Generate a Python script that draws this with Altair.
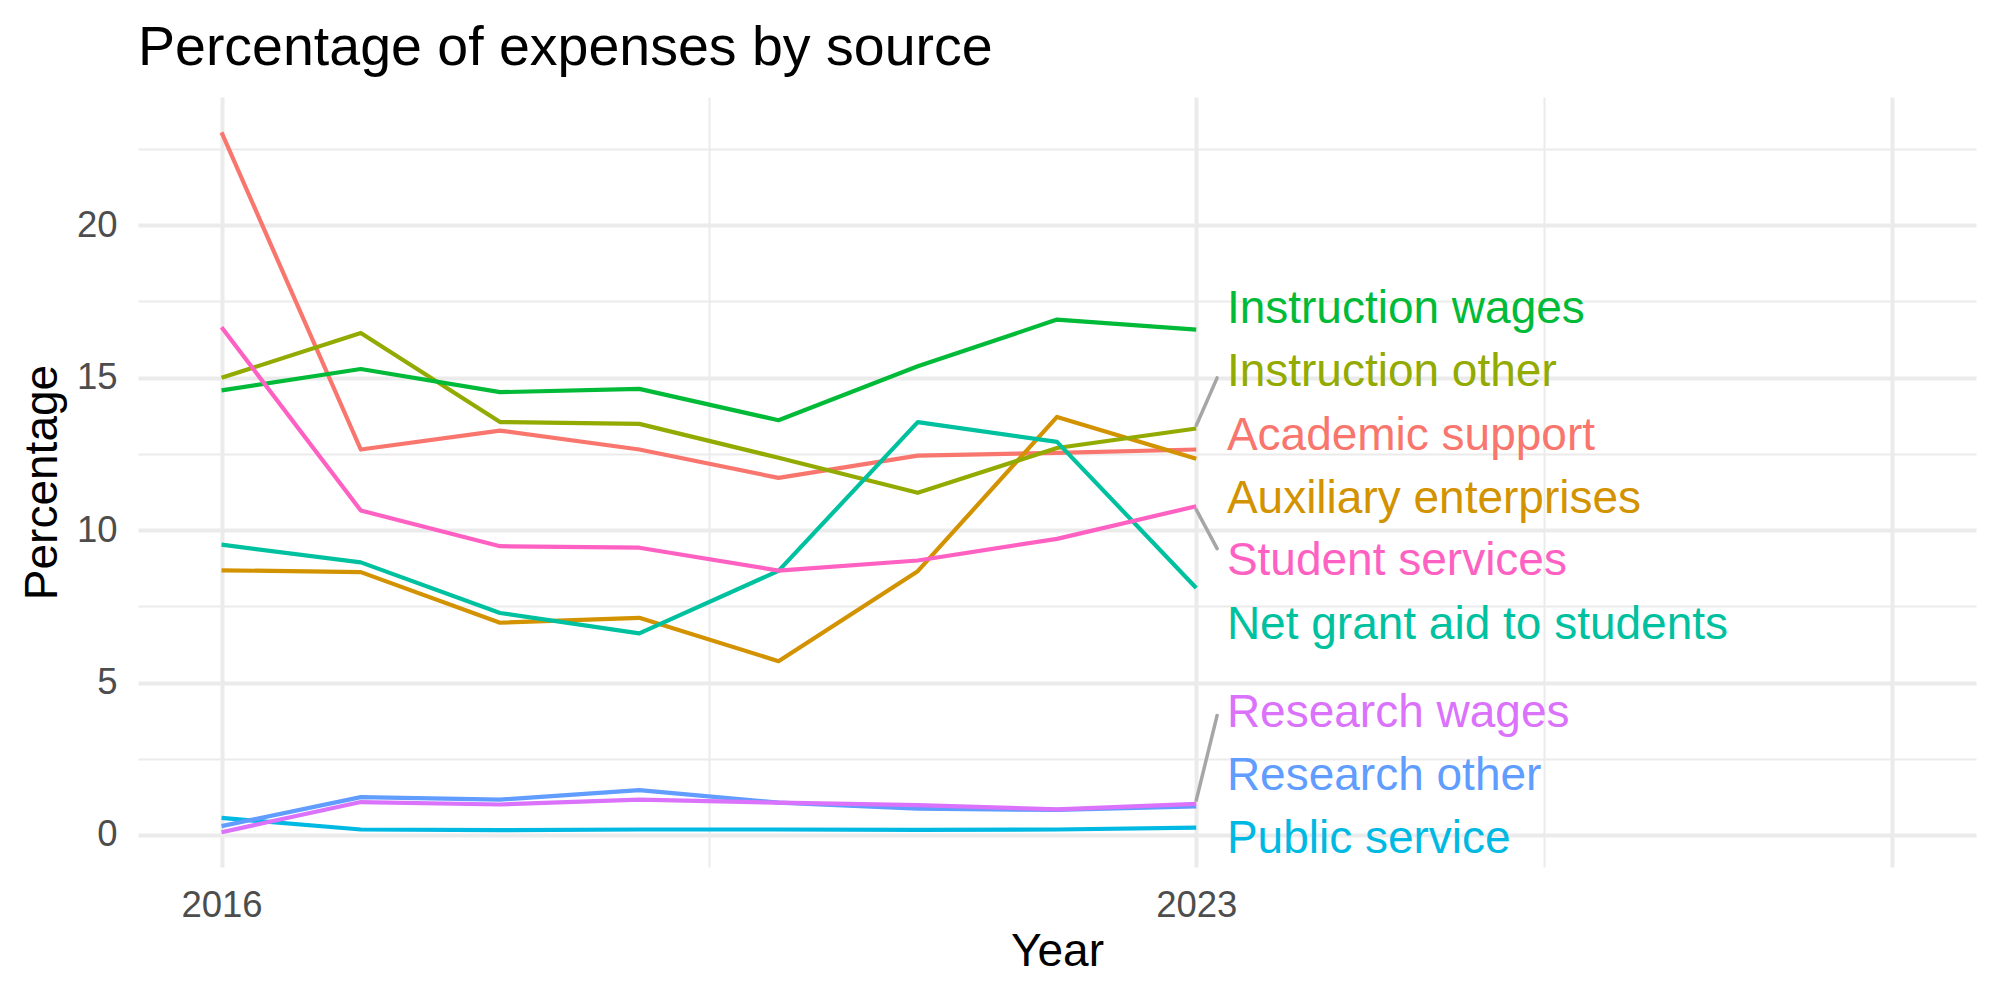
import altair as alt
import pandas as pd

# ---- data ----
years = [2016, 2017, 2018, 2019, 2020, 2021, 2022, 2023]
series = [
    "Academic support",
    "Auxiliary enterprises",
    "Instruction other",
    "Instruction wages",
    "Net grant aid to students",
    "Public service",
    "Research other",
    "Research wages",
    "Student services",
]
academic_support = [23.04, 12.64, 13.26, 12.64, 11.71, 12.44, 12.53, 12.64]
auxiliary_enterprises = [8.68, 8.62, 6.96, 7.12, 5.70, 8.65, 13.71, 12.34]
instruction_other = [14.99, 16.46, 13.54, 13.48, 12.37, 11.22, 12.69, 13.33]
instruction_wages = [14.58, 15.28, 14.52, 14.63, 13.60, 15.37, 16.90, 16.57]
net_grant_aid = [9.52, 8.94, 7.28, 6.61, 8.66, 13.54, 12.89, 8.10]
public_service = [0.56, 0.18, 0.16, 0.18, 0.18, 0.17, 0.18, 0.24]
research_other = [0.29, 1.24, 1.16, 1.47, 1.06, 0.86, 0.82, 0.94]
research_wages = [0.09, 1.08, 1.00, 1.16, 1.06, 0.98, 0.84, 1.02]
student_services = [16.65, 10.64, 9.47, 9.42, 8.67, 9.00, 9.71, 10.78]

colors = ["#F8766D", "#D39200", "#93AA00", "#00BA38", "#00C19F",
          "#00B9E3", "#619CFF", "#DB72FB", "#FF61C3"]

# repelled label positions (data units)
label_x = 2023.22
label_y = [13.08, 11.01, 15.17, 17.25, 6.90, -0.13, 1.94, 4.00, 8.97]

# connector segments (data units)
seg_series = ["Instruction other", "Student services", "Research wages"]
seg_x = [2023.0, 2023.0, 2023.0]
seg_y = [13.43, 10.67, 1.14]
seg_x2 = [2023.15, 2023.15, 2023.15]
seg_y2 = [14.99, 9.39, 3.92]

x_breaks = [2016, 2019.5, 2023, 2025.5, 2028]
y_breaks = [0, 2.5, 5, 7.5, 10, 12.5, 15, 17.5, 20, 22.5]

# ---- tables ----
all_vals = [academic_support, auxiliary_enterprises, instruction_other,
            instruction_wages, net_grant_aid, public_service,
            research_other, research_wages, student_services]
rows = []
for s, vals in zip(series, all_vals):
    for yr, v in zip(years, vals):
        rows.append({"series": s, "year": yr, "value": v})
df = pd.DataFrame(rows)
df_lab = pd.DataFrame({"series": series, "year": [label_x] * len(series), "value": label_y})
df_seg = pd.DataFrame({"series": seg_series, "year": seg_x, "value": seg_y,
                       "year2": seg_x2, "value2": seg_y2})

FONT = "Liberation Sans"

x_axis = alt.Axis(
    values=x_breaks,
    labelExpr="(datum.value == 2016 || datum.value == 2023) ? format(datum.value, 'd') : ''",
    grid=True, gridColor="#EBEBEB",
    gridWidth={"condition": {"test": "datum.value % 1 == 0", "value": 4}, "value": 2},
    domain=False, ticks=False, tickSize=0,
    labelFontSize=36.5, labelColor="#4D4D4D", labelPadding=20, labelFont=FONT,
    title="Year", titleFontSize=46, titleColor="black", titleFontWeight="normal",
    titleFont=FONT, titlePadding=6,
)
y_axis = alt.Axis(
    values=y_breaks,
    labelExpr="datum.value % 5 == 0 ? format(datum.value, 'd') : ''",
    grid=True, gridColor="#EBEBEB",
    gridWidth={"condition": {"test": "datum.value % 5 == 0", "value": 4}, "value": 2},
    domain=False, ticks=False, tickSize=0,
    labelFontSize=36.5, labelColor="#4D4D4D", labelPadding=21, labelFont=FONT,
    title="Percentage", titleFontSize=46, titleColor="black", titleFontWeight="normal",
    titleFont=FONT, titlePadding=10,
)
x_scale = alt.Scale(domain=[2015.4, 2028.6], nice=False, zero=False)
y_scale = alt.Scale(domain=[-1.05, 24.2], nice=False, zero=False)
color_enc = alt.Color("series:N", scale=alt.Scale(domain=series, range=colors), legend=None)

lines = alt.Chart(df).mark_line(strokeWidth=4.2, strokeJoin="round").encode(
    x=alt.X("year:Q", scale=x_scale, axis=x_axis),
    y=alt.Y("value:Q", scale=y_scale, axis=y_axis),
    color=color_enc,
    detail="series:N",
)

segs = alt.Chart(df_seg).mark_rule(color="#A6A6A6", strokeWidth=3.5, strokeCap="round").encode(
    x=alt.X("year:Q", scale=x_scale, axis=x_axis),
    y=alt.Y("value:Q", scale=y_scale, axis=y_axis),
    x2="year2:Q",
    y2="value2:Q",
)

labels = alt.Chart(df_lab).mark_text(
    align="left", baseline="middle", fontSize=46, font=FONT
).encode(
    x=alt.X("year:Q", scale=x_scale, axis=x_axis),
    y=alt.Y("value:Q", scale=y_scale, axis=y_axis),
    text="series:N",
    color=color_enc,
)

chart = alt.layer(lines, segs, labels).properties(
    width=1838,
    height=770,
    title=alt.TitleParams(
        "Percentage of expenses by source", anchor="start", frame="group", fontSize=55.5,
        font=FONT, fontWeight="normal", color="black", baseline="alphabetic", offset=-23,
    ),
    autosize=alt.AutoSizeParams(type="none"),
    padding={"left": 138, "top": 97, "right": 24, "bottom": 133},
).configure(
    font=FONT, background="white", view=alt.ViewConfig(stroke=None)
)

chart.save("out.html", embed_options={"renderer": "svg", "actions": False})
